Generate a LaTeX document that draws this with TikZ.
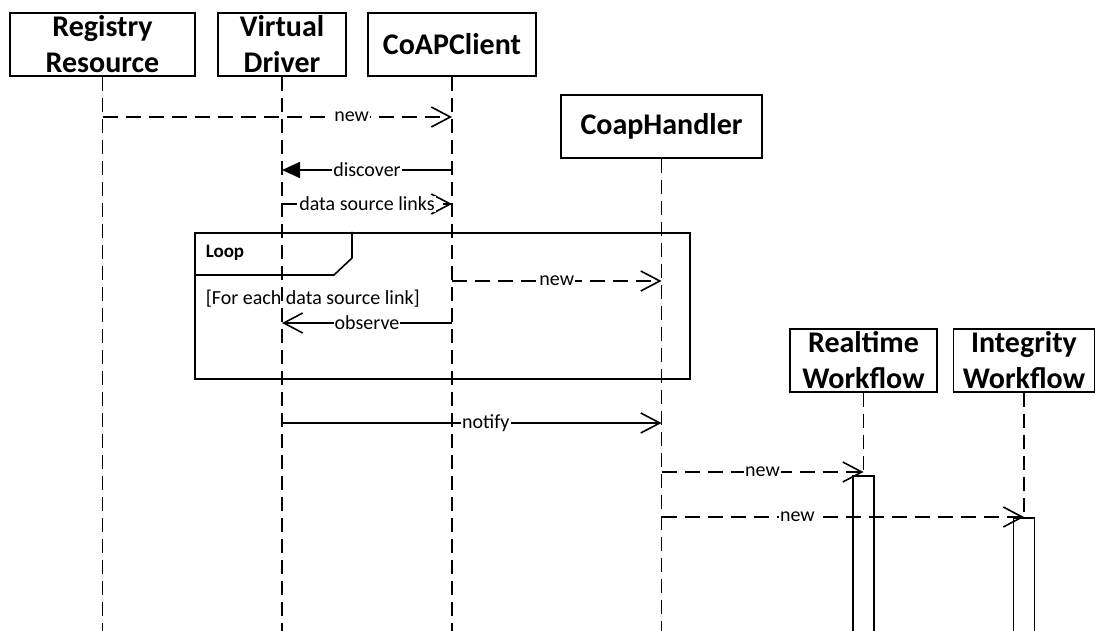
\documentclass[tikz,border=0pt]{standalone}
\usepackage{fontspec}
\setmainfont{Carlito}
\usetikzlibrary{arrows.meta}

\begin{document}
\begin{tikzpicture}[x=1pt, y=-1pt, line width=1.6pt,
  head/.style={draw, fill=white, align=center, inner sep=0pt,
    font=\fontsize{30}{36}\selectfont\bfseries},
  life/.style={dash pattern=on 14pt off 7pt},
  msg/.style={-{Straight Barb[length=19pt,width=20pt]}},
  call/.style={-{Triangle[length=18pt,width=16pt]}},
  reply/.style={msg, dash pattern=on 15pt off 8pt},
  lbl/.style={fill=white, inner sep=1pt, font=\fontsize{20}{23}\selectfont},
  act/.style={draw, fill=white},
]
\useasboundingbox (0,0) rectangle (1096,631);

% participants
\node[head, minimum width=185pt, minimum height=63pt] (reg) at (102.5,44.5) {Registry\\Resource};
\node[head, minimum width=128pt, minimum height=63pt] (drv) at (282,44.5) {Virtual\\Driver};
\node[head, minimum width=168pt, minimum height=63pt] (cli) at (452,44.5) {CoAPClient};
\node[head, minimum width=201pt, minimum height=63pt] (hdl) at (661.5,126.5) {CoapHandler};
\node[head, minimum width=147pt, minimum height=63pt] (rt) at (863.5,360.5) {Realtime\\Workflow};
\node[head, minimum width=141pt, minimum height=63pt] (ig) at (1024,360.5) {Integrity\\Workflow};

% activation bars
\node[act, minimum width=21pt, minimum height=160pt, anchor=north, inner sep=0pt] (rtA) at (863.5,475) {};
\node[act, minimum width=21pt, minimum height=120pt, anchor=north, inner sep=0pt] (igA) at (1024,517) {};

% lifelines
\coordinate (regE) at (reg |- 0,631);
\coordinate (drvE) at (drv |- 0,631);
\coordinate (cliE) at (cli |- 0,631);
\coordinate (hdlE) at (hdl |- 0,631);
\draw[life] (reg.south) -- (regE);
\draw[life] (drv.south) -- (drvE);
\draw[life] (cli.south) -- (cliE);
\draw[life] (hdl.south) -- (hdlE);
\draw[life] (rt.south) -- (rtA.north);
\draw[life] (ig.south) -- (igA.north);

% loop fragment
\node[draw, minimum width=495pt, minimum height=146pt, inner sep=0pt, anchor=north west] (loop) at (194,232) {};
\coordinate (tabA) at (194,275);
\coordinate (tabB) at (334,275);
\coordinate (tabC) at (352,258);
\coordinate (tabD) at (352,232);
\draw (tabA) -- (tabB) -- (tabC) -- (tabD);
\node[anchor=west, inner sep=0pt, font=\fontsize{19}{22}\selectfont\bfseries] (loopT) at (205,253) {Loop};
\node[anchor=west, inner sep=0pt, font=\fontsize{20}{23}\selectfont] (guard) at (205,299) {[For each data source link]};

% messages
\draw[reply] (reg |- 0,117) -- node[lbl, pos=0.713] {new} (cli |- 0,117);
\draw[call] (cli |- 0,170) -- node[lbl, pos=0.5] {discover} (drv |- 0,170);
\draw[reply] (drv |- 0,204) -- node[lbl, pos=0.5] {data source links} (cli |- 0,204);
\draw[reply] (cli |- 0,281) -- node[lbl, pos=0.5] {new} (hdl |- 0,281);
\draw[msg] (cli |- 0,323) -- node[lbl, pos=0.5] {observe} (drv |- 0,323);
\draw[msg] (drv |- 0,423) -- node[lbl, pos=0.537] {notify} (hdl |- 0,423);
\draw[reply] (hdl |- 0,472) -- node[lbl, pos=0.5] {new} (rt |- 0,472);
\draw[reply] (hdl |- 0,517) -- node[lbl, pos=0.375] {new} (ig |- 0,517);
\end{tikzpicture}
\end{document}
